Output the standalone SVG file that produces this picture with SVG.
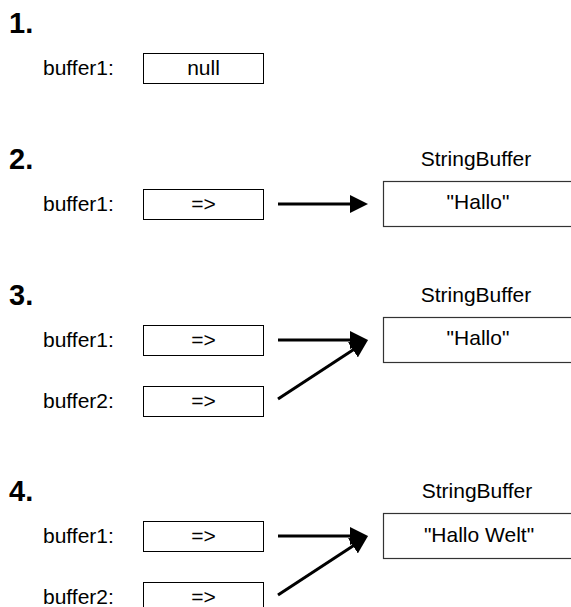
<svg xmlns="http://www.w3.org/2000/svg" width="571" height="607" viewBox="0 0 571 607">
<style>
.h{font-family:"Liberation Sans",Arial,sans-serif;font-weight:bold;font-size:29px;fill:#000}
.t{font-family:"Liberation Sans",Arial,sans-serif;font-size:21px;fill:#000}
.c{text-anchor:middle}
.box{fill:#fff;stroke:#000;stroke-width:1}
.big{fill:#fff;stroke:#333;stroke-width:1.2}
.arr{stroke:#000;stroke-width:3;fill:none;marker-end:url(#ah)}
</style>
<defs>
<marker id="ah" viewBox="0 0 18 18" refX="10" refY="9" markerWidth="18" markerHeight="18" markerUnits="userSpaceOnUse" orient="auto">
<path d="M0,0 L18,9 L0,18 z" fill="#000"/>
</marker>
</defs>
<rect width="571" height="607" fill="#fff"/>

<g id="s1">
<text class="h" x="9" y="33">1.</text>
<text class="t" x="43" y="75">buffer1:</text>
<g id="s1-buffer1"><rect class="box" x="143.5" y="53.5" width="120" height="30"/><text class="t c" x="203.5" y="75">null</text></g>
</g>

<g id="s2">
<text class="h" x="9" y="169">2.</text>
<text class="t" x="43" y="211">buffer1:</text>
<g id="s2-buffer1"><rect class="box" x="143.5" y="189.5" width="120" height="30"/><text class="t c" x="203.5" y="211">=&gt;</text></g>
<g id="s2-sb"><text class="t c" x="476" y="166">StringBuffer</text><rect class="big" x="383.5" y="181.5" width="190" height="45"/><text class="t c" x="478" y="209">"Hallo"</text></g>
</g>

<g id="s3">
<text class="h" x="9" y="305">3.</text>
<text class="t" x="43" y="347">buffer1:</text>
<g id="s3-buffer1"><rect class="box" x="143.5" y="325.5" width="120" height="30"/><text class="t c" x="203.5" y="347">=&gt;</text></g>
<text class="t" x="43" y="408">buffer2:</text>
<g id="s3-buffer2"><rect class="box" x="143.5" y="386.5" width="120" height="30"/><text class="t c" x="203.5" y="408">=&gt;</text></g>
<g id="s3-sb"><text class="t c" x="476" y="302">StringBuffer</text><rect class="big" x="383.5" y="317.5" width="190" height="45"/><text class="t c" x="478" y="345">"Hallo"</text></g>
</g>

<g id="s4">
<text class="h" x="9" y="501">4.</text>
<text class="t" x="43" y="543">buffer1:</text>
<g id="s4-buffer1"><rect class="box" x="143.5" y="521.5" width="120" height="30"/><text class="t c" x="203.5" y="543">=&gt;</text></g>
<text class="t" x="43" y="604">buffer2:</text>
<g id="s4-buffer2"><rect class="box" x="143.5" y="582.5" width="120" height="30"/><text class="t c" x="203.5" y="604">=&gt;</text></g>
<g id="s4-sb"><text class="t c" x="477" y="498">StringBuffer</text><rect class="big" x="383.5" y="513.5" width="190" height="45"/><text class="t c" x="479" y="542">"Hallo Welt"</text></g>
</g>

<g id="connectors">
<line class="arr" x1="278" y1="204" x2="360" y2="204"/>
<line class="arr" x1="278" y1="340" x2="360" y2="340"/>
<line class="arr" x1="278" y1="399" x2="361.3" y2="344.4"/>
<line class="arr" x1="278" y1="595" x2="361.3" y2="540.4"/>
<line class="arr" x1="278" y1="536" x2="360" y2="536"/>
</g>
</svg>
